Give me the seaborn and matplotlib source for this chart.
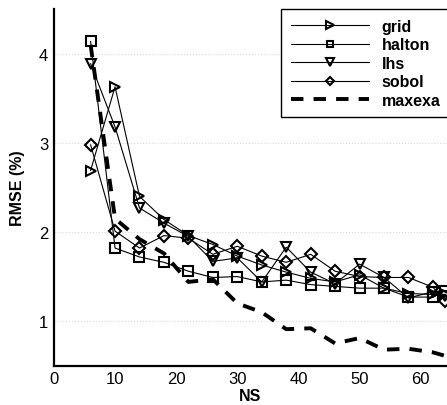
import numpy as np
import pandas as pd
import seaborn as sns
import matplotlib
matplotlib.use('Agg')
import matplotlib.pyplot as plt
from matplotlib.ticker import MultipleLocator

# sample sizes (NS)
ns = [6, 10, 14, 18, 22, 26, 30, 34, 38, 42, 46, 50, 54, 58, 62, 64]

# RMSE (%) per sampling method
grid = [2.69, 3.63, 2.40, 2.14, 1.96, 1.86, 1.73, 1.63, 1.55, 1.48, 1.44, 1.52, 1.37, 1.31, 1.30, 1.30]
halton = [4.14, 1.82, 1.72, 1.66, 1.56, 1.49, 1.50, 1.44, 1.46, 1.41, 1.39, 1.37, 1.37, 1.27, 1.27, 1.34]
lhs = [3.89, 3.18, 2.27, 2.10, 1.95, 1.67, 1.71, 1.44, 1.83, 1.55, 1.42, 1.64, 1.49, 1.26, 1.33, 1.28]
sobol = [2.98, 2.01, 1.82, 1.96, 1.93, 1.75, 1.84, 1.73, 1.66, 1.75, 1.56, 1.50, 1.49, 1.49, 1.38, 1.23]
maxexa = [4.10, 2.15, 1.92, 1.76, 1.44, 1.47, 1.20, 1.10, 0.91, 0.92, 0.75, 0.81, 0.68, 0.69, 0.65, 0.61]

methods = ['grid', 'halton', 'lhs', 'sobol']
markers = {'grid': '>', 'halton': 's', 'lhs': 'v', 'sobol': 'D'}
msizes = {'grid': 7.5, 'halton': 6.5, 'lhs': 7.5, 'sobol': 6.3}

df = pd.DataFrame({'NS': ns, 'grid': grid, 'halton': halton, 'lhs': lhs,
                   'sobol': sobol, 'maxexa': maxexa})

sns.set_style('white')
plt.rcParams['font.family'] = ['Liberation Sans', 'DejaVu Sans']
plt.rcParams['text.color'] = 'k'
plt.rcParams['axes.labelcolor'] = 'k'
plt.rcParams['xtick.color'] = 'k'
plt.rcParams['ytick.color'] = 'k'

fig = plt.figure(figsize=(4.47, 4.06), dpi=100)
ax = fig.add_axes([0.1206, 0.0968, 0.8794, 0.878])

for m in methods:
    sns.lineplot(data=df, x='NS', y=m, ax=ax, color='k', linewidth=0.8,
                 marker=markers[m], markersize=msizes[m], mfc='none', mec='k',
                 mew=1.5, label=m)

sns.lineplot(data=df, x='NS', y='maxexa', ax=ax, color='k', linewidth=2.8,
             label='maxexa')
ax.lines[-1].set_dashes((3.2, 2.6))

ax.set_xlim(0, 64.3)
ax.set_ylim(0.5, 4.5)
ax.xaxis.set_major_locator(MultipleLocator(10))
ax.xaxis.set_minor_locator(MultipleLocator(2))
ax.yaxis.set_major_locator(MultipleLocator(1))
ax.yaxis.set_minor_locator(MultipleLocator(0.2))
ax.tick_params(which='both', direction='in', width=1.3, labelsize=12,
               top=False, right=False, colors='k')
ax.tick_params(which='major', length=6.5, pad=4)
ax.tick_params(which='minor', length=3.5)
ax.yaxis.grid(True, which='major', linestyle=':', color='#d8d8d8', linewidth=0.8)

for s in ['top', 'right']:
    ax.spines[s].set_visible(False)
for s in ['left', 'bottom']:
    ax.spines[s].set_linewidth(1.6)
    ax.spines[s].set_color('k')

ax.set_xlabel('NS', fontsize=11.5, fontweight='bold', labelpad=1)
ax.set_ylabel('RMSE (%)', fontsize=11.5, fontweight='bold', labelpad=10)

leg = ax.legend(loc='upper right', bbox_to_anchor=(1.025, 0.995),
                bbox_transform=fig.transFigure, frameon=True, fancybox=False,
                edgecolor='k', framealpha=1, handlelength=4.9, handletextpad=0.8,
                labelspacing=0.22, markerscale=0.7, borderpad=0.6,
                prop={'weight': 'bold', 'size': 11.5})
leg.get_frame().set_linewidth(1.0)

fig.savefig('out.png', dpi=100)
